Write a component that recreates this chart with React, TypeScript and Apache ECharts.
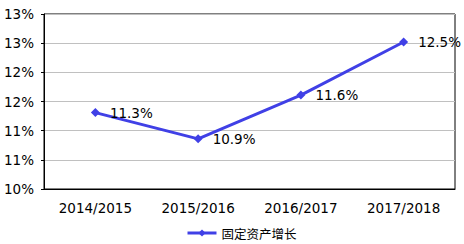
import React, { useEffect, useRef } from "react";
import * as echarts from "echarts";

const categories = ["2014/2015", "2015/2016", "2016/2017", "2017/2018"];
const seriesName = "固定资产增长";
const values = [11.31, 10.86, 11.61, 12.52];
const yMin = 10;
const yMax = 13;
const yInterval = 0.5;

export default function App() {
  const ref = useRef<HTMLDivElement>(null);
  useEffect(() => {
    if (!ref.current) return;
    const chart = echarts.init(ref.current, null, { renderer: "svg" });
    const font = "Verdana, 'DejaVu Sans', sans-serif";
    chart.setOption({
      animation: false,
      textStyle: { fontFamily: font },
      grid: {
        left: 44,
        right: 9,
        top: 14,
        bottom: 55,
        show: true,
        borderColor: "#000",
        borderWidth: 1,
      },
      legend: {
        data: [seriesName],
        left: 186,
        top: 225,
        itemWidth: 29,
        itemHeight: 9,
        itemGap: 4,
        padding: 0,
        lineStyle: { width: 3 },
        textStyle: { fontSize: 12.5, color: "#000", fontFamily: "'Noto Sans CJK SC', sans-serif", lineHeight: 16 },
      },
      xAxis: {
        type: "category",
        data: categories,
        boundaryGap: true,
        axisLine: { lineStyle: { color: "#000" } },
        axisTick: { inside: true, length: 5, lineStyle: { color: "#000" } },
        axisLabel: { color: "#000", fontSize: 13.5, margin: 12, fontFamily: font },
        splitLine: { show: false },
      },
      yAxis: {
        type: "value",
        min: yMin,
        max: yMax,
        interval: yInterval,
        axisLine: { show: true, lineStyle: { color: "#000" } },
        axisTick: { show: true, length: 3, lineStyle: { color: "#000" } },
        axisLabel: {
          color: "#000",
          fontSize: 13.5,
          margin: 10,
          fontFamily: font,
          formatter: (v: number) => Math.round(v) + "%",
        },
        splitLine: { show: true, lineStyle: { color: "#c0c0c0" } },
      },
      series: [
        {
          name: seriesName,
          type: "line",
          data: values,
          symbol: "diamond",
          symbolSize: 9,
          itemStyle: { color: "#4040e6" },
          lineStyle: { color: "#4040e6", width: 3 },
          label: {
            show: true,
            position: "right",
            distance: 10,
            color: "#000",
            fontSize: 13.5,
            fontFamily: font,
            formatter: (p: any) => p.value.toFixed(1) + "%",
          },
        },
      ],
    });
    return () => chart.dispose();
  }, []);
  return (
    <div
      ref={ref}
      style={{ position: "absolute", left: 0, top: 0, width: 464, height: 244 }}
    />
  );
}
